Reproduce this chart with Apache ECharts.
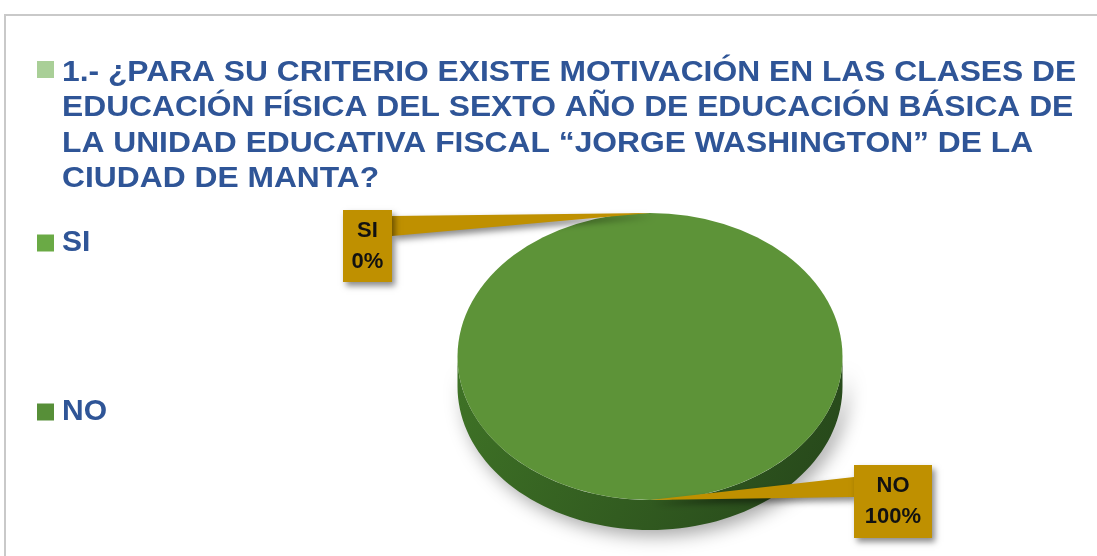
<!DOCTYPE html>
<html><head><meta charset="utf-8">
<script src="https://cdn.jsdelivr.net/npm/echarts@6/dist/echarts.min.js"></script>
<style>html,body{margin:0;padding:0;background:#fff}#c{width:1097px;height:556px}</style>
</head><body><div id="c"></div><script>
// ---- data ----
const questionText = '1.- ¿PARA SU CRITERIO EXISTE MOTIVACIÓN EN LAS CLASES DE\nEDUCACIÓN FÍSICA DEL SEXTO AÑO DE EDUCACIÓN BÁSICA DE\nLA UNIDAD EDUCATIVA FISCAL “JORGE WASHINGTON” DE LA\nCIUDAD DE MANTA?';
const categories = ['SI', 'NO'];
const values = [0, 100];

// ---- styles / layout ----
const legendColors = ['#6aaa45', '#578f38'];
const topColors = ['#6aaa45', '#5d9338'];
const sideColors = [['#4f8a2e', '#2f5a1c'], ['#3f7326', '#25451a']];
const CX = 650, CY = 356.5, RX = 192.5, RY = 143.5, DEPTH = 30;
const labelBoxes = [
  {dx: -307, dy: -3, w: 49, h: 72, attach: 'right', a0: 6, a1: 26},
  {dx: 204, dy: -35, w: 78, h: 73, attach: 'left', a0: 12, a1: 32}
];
const blue = '#2f5597';
const gold = '#bf9000';

function ellPt(t, dy) { return [CX + RX * Math.cos(t), CY + RY * Math.sin(t) + (dy || 0)]; }

function makeRender(idx) {
  return function (params, api) {
    const total = values.reduce((a, b) => a + b, 0);
    let start = -Math.PI / 2;
    for (let k = 0; k < idx; k++) start += values[k] / total * 2 * Math.PI;
    const v = api.value(0);
    const end = start + v / total * 2 * Math.PI;
    const children = [];
    // side (front half only)
    for (let k = -1; k <= 1; k++) {
      const lo = Math.max(start, 2 * Math.PI * k), hi = Math.min(end, 2 * Math.PI * k + Math.PI);
      if (hi > lo) {
        const pts = [];
        const n = 80;
        for (let i = 0; i <= n; i++) pts.push(ellPt(lo + (hi - lo) * i / n, 0));
        for (let i = n; i >= 0; i--) pts.push(ellPt(lo + (hi - lo) * i / n, DEPTH));
        children.push({
          type: 'polygon', shape: {points: pts}, z2: 1,
          style: {
            fill: new echarts.graphic.LinearGradient(0, 0, 1, 1, [
              {offset: 0, color: sideColors[idx][0]}, {offset: 1, color: sideColors[idx][1]}]),
            shadowBlur: 18, shadowColor: 'rgba(0,0,0,0.35)', shadowOffsetX: 5, shadowOffsetY: 6
          }
        });
      }
    }
    if (end > start) {
      children.push({
        type: 'sector', x: CX, y: CY, scaleY: RY / RX, z2: 10,
        shape: {cx: 0, cy: 0, r: RX, r0: 0, startAngle: start, endAngle: end, clockwise: true},
        style: {fill: topColors[idx]}
      });
    }
    // callout label
    const mid = (start + end) / 2;
    const a = ellPt(mid, 0);
    const b = labelBoxes[idx];
    const bx = a[0] + b.dx, by = a[1] + b.dy;
    const ex = b.attach === 'right' ? bx + b.w : bx;
    const pct = Math.round(v / total * 100) + '%';
    const shadow = {shadowBlur: 6, shadowColor: 'rgba(0,0,0,0.45)', shadowOffsetX: 3, shadowOffsetY: 4};
    children.push({
      type: 'polygon', z2: 100,
      shape: {points: [[ex, by + b.a0], [a[0], a[1]], [ex, by + b.a1]]},
      style: Object.assign({fill: gold}, shadow)
    });
    children.push({
      type: 'rect', z2: 101,
      shape: {x: bx, y: by, width: b.w, height: b.h},
      style: Object.assign({fill: gold}, shadow)
    });
    children.push({
      type: 'text', z2: 102, x: bx + b.w / 2, y: by + b.h / 2,
      style: {
        text: categories[idx] + '\n' + pct, align: 'center', verticalAlign: 'middle',
        fontFamily: 'Liberation Sans', fontWeight: 'bold', fontSize: 22, lineHeight: 31, fill: '#111'
      }
    });
    return {type: 'group', children};
  };
}

const chart = echarts.init(document.getElementById('c'), null, {renderer: 'canvas'});
chart.setOption({
  animation: false,
  legend: {
    data: categories, orient: 'vertical', left: 37, top: 228, itemGap: 139,
    itemWidth: 17, itemHeight: 17, icon: 'rect', selectedMode: false, padding: 0,
    textStyle: {fontFamily: 'Liberation Sans', fontWeight: 'bold', fontSize: 30, lineHeight: 30, color: blue,
                padding: [0, 0, 0, 3]}
  },
  graphic: [
    {type: 'rect', z: -10, silent: true,
     shape: {x: 5, y: 15, width: 1300, height: 800}, style: {fill: 'none', stroke: '#c9c9c9', lineWidth: 2}},
    {type: 'rect', silent: true,
     shape: {x: 37, y: 61, width: 17, height: 17}, style: {fill: '#a9cf97'}},
    {type: 'text', x: 62, y: 55, scaleX: 1.096, silent: true,
     style: {text: questionText, fontFamily: 'Liberation Sans', fontWeight: 'bold', fontSize: 29,
             lineHeight: 35.5, fill: blue, verticalAlign: 'top'}}
  ],
  series: categories.map((name, i) => ({
    type: 'custom', name: name, coordinateSystem: 'none',
    itemStyle: {color: legendColors[i]},
    data: [[values[i]]],
    renderItem: makeRender(i)
  }))
});
</script></body></html>
